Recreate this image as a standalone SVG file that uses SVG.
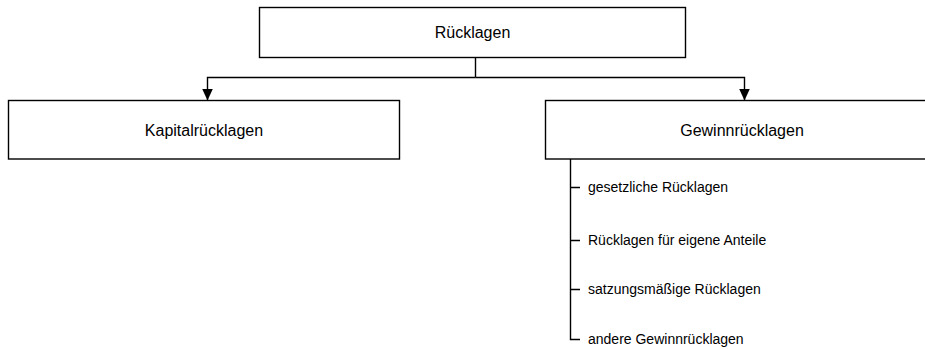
<svg xmlns="http://www.w3.org/2000/svg" width="925" height="349" viewBox="0 0 925 349">
<style>
.box{fill:#fff;stroke:#000;stroke-width:1.4}
.t{font-family:"Liberation Sans",Arial,sans-serif;font-size:16px;fill:#000}
.s{font-family:"Liberation Sans",Arial,sans-serif;font-size:14px;fill:#000}
.c{text-anchor:middle}
.ln{fill:none;stroke:#000;stroke-width:1.4}
</style>
<defs>
<marker id="ah" markerWidth="12" markerHeight="12" refX="12" refY="6" orient="auto" markerUnits="userSpaceOnUse" viewBox="0 0 12 12">
<path d="M0,0.5 L12,6 L0,11.5 Z" fill="#000"/>
</marker>
</defs>
<g id="n-ruecklagen">
<rect class="box" x="259.5" y="7.5" width="426" height="50"/>
<text class="t c" x="472.5" y="38">Rücklagen</text>
</g>
<g id="n-kapital">
<rect class="box" x="8.5" y="100.5" width="391" height="58.5"/>
<text class="t c" x="204" y="136">Kapitalrücklagen</text>
</g>
<g id="n-gewinn">
<rect class="box" x="545.5" y="100.5" width="400" height="58.5"/>
<text class="t c" x="742" y="136">Gewinnrücklagen</text>
<text class="s" x="588" y="192">gesetzliche Rücklagen</text>
<text class="s" x="588" y="245">Rücklagen für eigene Anteile</text>
<text class="s" x="588" y="294">satzungsmäßige Rücklagen</text>
<text class="s" x="588" y="344">andere Gewinnrücklagen</text>
</g>
<g id="connectors">
<path class="ln" d="M475.5,57.5 V77.5"/>
<path class="ln" d="M475.5,77.5 H207.5 V100.5" marker-end="url(#ah)"/>
<path class="ln" d="M475.5,77.5 H744.5 V100.5" marker-end="url(#ah)"/>
<path class="ln" d="M570.5,159 V339.5 H580"/>
<path class="ln" d="M570.5,187.5 H580 M570.5,240.5 H580 M570.5,289.5 H580"/>
</g>
</svg>
